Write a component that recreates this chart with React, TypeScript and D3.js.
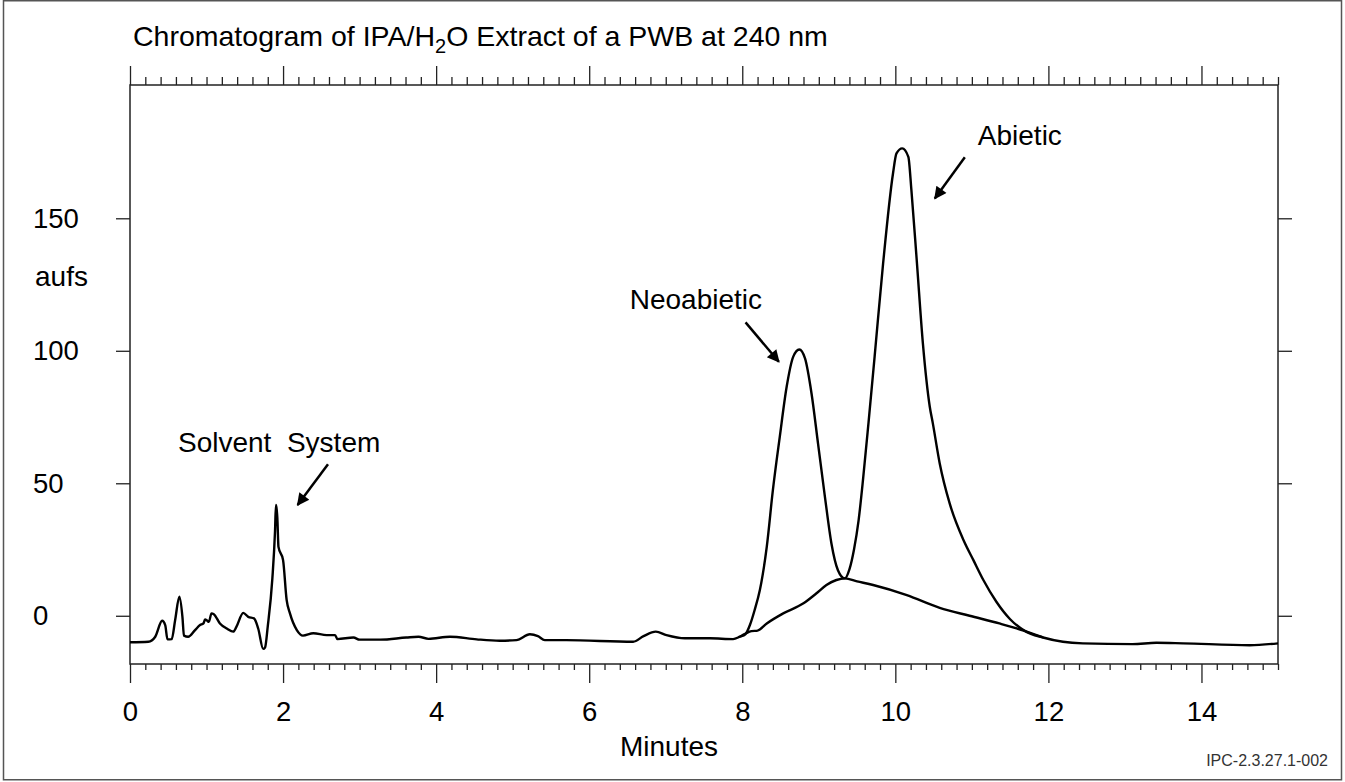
import React, { useEffect, useRef } from 'react';
import * as d3 from 'd3';

// main detector trace: [minutes, aufs]
const trace: [number, number][] = [
  [0, -10.0], [0.24, -9.8], [0.33, -7.9], [0.42, -1.9], [0.46, -3.5], [0.49, -8.9],
  [0.545, -8.8], [0.59, -1.6], [0.645, 7.2], [0.685, -0.4], [0.705, -7.5], [0.76, -7.9],
  [0.85, -5.4], [0.915, -3.5], [0.96, -2.9], [0.98, -1.4], [1.01, -1.9], [1.03, -2.3],
  [1.065, 0.9], [1.095, 0.6], [1.175, -2.9], [1.265, -4.8], [1.35, -6.0], [1.39, -4.2],
  [1.48, 1.1], [1.545, -0.4], [1.62, -1.0], [1.675, -4.8], [1.74, -12.5], [1.765, -11.9],
  [1.8, -4.0], [1.86, 14.0], [1.895, 32], [1.907, 41.8], [1.917, 40], [1.925, 37],
  [1.94, 26], [2.0, 21], [2.047, 5.9], [2.09, 0.9], [2.18, -5.4], [2.26, -7.5],
  [2.395, -6.6], [2.57, -7.3], [2.68, -7.3], [2.71, -8.8], [2.92, -8.2], [3.0, -9.0],
  [3.27, -9.0], [3.61, -8.2], [3.77, -7.9], [3.9, -8.7], [4.18, -7.9], [4.53, -8.9],
  [4.83, -9.4], [5.05, -9.2], [5.225, -7.0], [5.33, -7.7], [5.42, -9.2], [5.7, -9.2],
  [6.575, -9.8], [6.71, -7.7], [6.87, -6.0], [7.01, -7.3], [7.25, -8.5], [7.58, -8.5],
  [7.88, -8.8], [7.97, -7.9], [8.04, -7.0], [8.1, -3.5], [8.16, 2], [8.23, 9.7],
  [8.32, 26], [8.4, 47.4], [8.49, 67.5], [8.58, 86.4], [8.665, 97.7], [8.745, 100.5],
  [8.82, 97.1], [8.905, 83.9], [8.99, 65], [9.08, 44.9], [9.165, 27.3], [9.25, 17.2],
  [9.34, 14.1], [9.4, 17.5], [9.46, 25], [9.52, 36], [9.58, 52], [9.65, 73],
  [9.73, 98], [9.84, 132.9], [9.97, 167], [10.015, 174.5], [10.09, 176.4], [10.17, 173.2],
  [10.21, 160.6], [10.28, 134], [10.36, 102.8], [10.45, 78.9], [10.49, 72.6],
  [10.58, 57.5], [10.71, 42.4], [10.89, 28.6], [11.02, 21], [11.15, 13.5], [11.32, 5.3],
  [11.5, -1.3], [11.69, -5.7], [11.93, -8.2], [12.19, -9.8], [12.45, -10.4],
  [13.1, -10.7], [13.41, -10.2], [13.76, -10.4], [14.63, -11.1], [15, -10.4],
];

// broad hump drawn under the two resin acid peaks
const hump: [number, number][] = [
  [7.97, -7.9], [8.05, -6.6], [8.12, -5.8], [8.2, -5.6], [8.32, -2.9], [8.535, 0.9],
  [8.8, 4.7], [8.97, 8.5], [9.1, 11.6], [9.23, 13.5], [9.34, 14.1], [9.5, 13],
  [9.71, 11.6], [10.15, 7.8], [10.58, 3.0], [10.97, 0.0], [11.36, -2.9], [11.69, -5.7],
  [11.93, -8.2],
];

const xMajor = [0, 2, 4, 6, 8, 10, 12, 14];
const yMajor = [0, 50, 100, 150];

// label anchor (minutes, aufs) and arrow from -> to
const notes = [
  { text: 'Solvent\u00a0\u00a0System', x: 0.627, y: 61.8, from: [2.587, 57.2], to: [2.19, 41.8] },
  { text: 'Neoabietic', x: 6.53, y: 115.7, from: [8.043, 110.7], to: [8.478, 95.85] },
  { text: 'Abietic', x: 11.078, y: 177.6, from: [10.908, 173.0], to: [10.516, 157.5] },
];

const FONT = '"Liberation Sans", Arial, Helvetica, sans-serif';

export default function App() {
  const ref = useRef<SVGSVGElement>(null);

  useEffect(() => {
    const svg = d3.select(ref.current);
    svg.selectAll('*').remove();

    const left = 130, right = 1278, top = 85, bottom = 664;
    const x = d3.scaleLinear().domain([0, 15]).range([left, right]);
    const y = d3.scaleLinear().domain([-18.2, 200.3]).range([bottom, top]);

    // outer frame
    svg.append('rect')
      .attr('x', 3.5).attr('y', 0.75).attr('width', 1338).attr('height', 779)
      .attr('fill', 'none').attr('stroke', '#555').attr('stroke-width', 1.5);

    const minor = d3.range(0, 15.001, 0.2).filter(t => Math.abs(t / 2 - Math.round(t / 2)) > 1e-6);

    const styleAxis = (g: any) => {
      g.select('.domain').remove();
      g.selectAll('line').attr('stroke', '#222').attr('stroke-width', 1.3);
    };

    // bottom minor + major
    svg.append('g').attr('transform', `translate(0,${bottom})`)
      .call(d3.axisBottom(x).tickValues(minor).tickSize(6).tickFormat(() => ''))
      .call(styleAxis);
    svg.append('g').attr('transform', `translate(0,${bottom})`)
      .call(d3.axisBottom(x).tickValues(xMajor).tickSize(19).tickPadding(18).tickFormat(d3.format('d')))
      .call(styleAxis)
      .call(g => g.selectAll('text').attr('font-family', FONT).attr('font-size', 27.5).attr('fill', '#000'));

    // top minor + major
    svg.append('g').attr('transform', `translate(0,${top})`)
      .call(d3.axisTop(x).tickValues(minor).tickSize(8).tickFormat(() => ''))
      .call(styleAxis);
    svg.append('g').attr('transform', `translate(0,${top})`)
      .call(d3.axisTop(x).tickValues(xMajor).tickSize(19).tickFormat(() => ''))
      .call(styleAxis);

    // left axis with left-aligned labels
    svg.append('g').attr('transform', `translate(${left},0)`)
      .call(d3.axisLeft(y).tickValues(yMajor).tickSize(14).tickFormat(d3.format('d')))
      .call(styleAxis)
      .call(g => g.selectAll('text')
        .attr('font-family', FONT).attr('font-size', 27.5).attr('fill', '#000')
        .attr('text-anchor', 'start').attr('x', 33 - left));

    // right axis, ticks only
    svg.append('g').attr('transform', `translate(${right},0)`)
      .call(d3.axisRight(y).tickValues(yMajor).tickSize(14).tickFormat(() => ''))
      .call(styleAxis);

    // plot box
    svg.append('rect')
      .attr('x', left).attr('y', top).attr('width', right - left).attr('height', bottom - top)
      .attr('fill', 'none').attr('stroke', '#222').attr('stroke-width', 1.5);

    const line = d3.line<[number, number]>()
      .x(d => x(d[0])).y(d => y(d[1]))
      .curve(d3.curveMonotoneX);

    svg.append('path').attr('d', line(hump))
      .attr('fill', 'none').attr('stroke', '#000').attr('stroke-width', 2.4).attr('stroke-linejoin', 'round');
    svg.append('path').attr('d', line(trace))
      .attr('fill', 'none').attr('stroke', '#000').attr('stroke-width', 2.4).attr('stroke-linejoin', 'round');

    // title with subscript
    const title = svg.append('text')
      .attr('x', 133).attr('y', 46)
      .attr('font-family', FONT).attr('font-size', 28.5).attr('fill', '#000');
    title.append('tspan').text('Chromatogram of IPA/H');
    title.append('tspan').text('2').attr('font-size', 20).attr('dy', 7);
    title.append('tspan').text('O Extract of a PWB at 240 nm').attr('dy', -7);

    svg.append('text').attr('x', 35).attr('y', 286)
      .attr('font-family', FONT).attr('font-size', 28).text('aufs');

    svg.append('text').attr('x', 669).attr('y', 756).attr('text-anchor', 'middle')
      .attr('font-family', FONT).attr('font-size', 28).text('Minutes');

    svg.append('text').attr('x', 1328).attr('y', 766).attr('text-anchor', 'end')
      .attr('font-family', FONT).attr('font-size', 16).attr('fill', '#333')
      .text('IPC-2.3.27.1-002');

    // annotations
    const defs = svg.append('defs');
    defs.append('marker').attr('id', 'ah')
      .attr('viewBox', '0 0 10 10').attr('refX', 9).attr('refY', 5)
      .attr('markerWidth', 6).attr('markerHeight', 5).attr('orient', 'auto')
      .attr('markerUnits', 'strokeWidth')
      .append('path').attr('d', 'M0,0 L10,5 L0,10 z').attr('fill', '#000');

    notes.forEach(n => {
      svg.append('text').attr('x', x(n.x)).attr('y', y(n.y))
        .attr('font-family', FONT).attr('font-size', 28).attr('fill', '#000')
        .text(n.text);
      svg.append('line')
        .attr('x1', x(n.from[0])).attr('y1', y(n.from[1]))
        .attr('x2', x(n.to[0])).attr('y2', y(n.to[1]))
        .attr('stroke', '#000').attr('stroke-width', 2.5)
        .attr('marker-end', 'url(#ah)');
    });
  }, []);

  return (
    <svg ref={ref} width={1345} height={782}
      style={{ position: 'absolute', left: 0, top: 0, display: 'block', background: '#fff' }} />
  );
}
